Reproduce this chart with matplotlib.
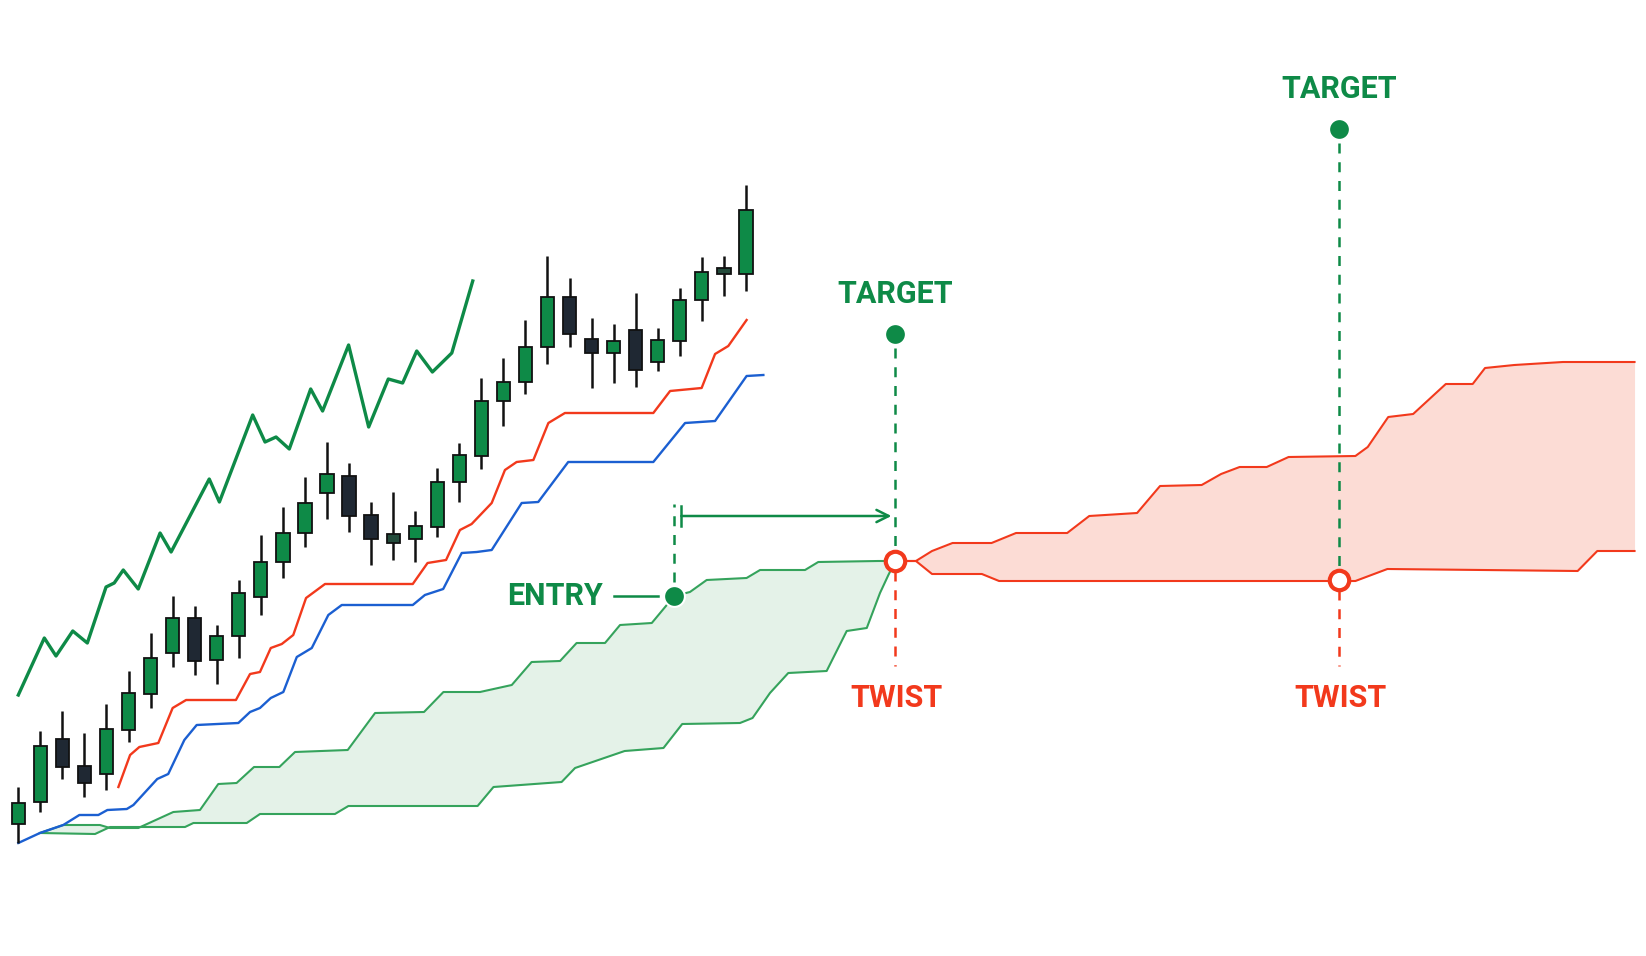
import numpy as np
import matplotlib.pyplot as plt

# candles: bar index, open, high, low, close
opens = [132, 154, 217, 190, 182, 226, 262, 303, 338, 296, 320, 359, 394, 423, 463, 480, 441,
         422, 417, 429, 474, 500, 555, 574, 609, 659, 617, 603, 626, 594, 615, 656, 688, 682]
highs = [169, 225, 245, 223, 252, 285, 323, 360, 350, 331, 376, 421, 449, 479, 514, 493, 454,
         464, 445, 488, 513, 578, 598, 636, 700, 678, 638, 632, 663, 628, 668, 699, 700, 771]
lows = [113, 144, 177, 159, 166, 214, 248, 289, 281, 272, 298, 341, 378, 409, 437, 424, 391,
        396, 394, 419, 454, 487, 530, 562, 592, 609, 568, 573, 569, 585, 600, 635, 660, 665]
closes = [153, 210, 189, 173, 227, 263, 298, 338, 295, 320, 363, 394, 423, 453, 482, 440, 417,
          413, 430, 474, 501, 555, 574, 609, 659, 622, 603, 615, 586, 616, 656, 684, 682, 746]

# lagging span (chikou)
chikou_x = [0, 1.18, 1.71, 2.47, 3.13, 3.98, 4.35, 4.76, 5.44, 6.43, 6.93, 8.66, 9.12, 10.63,
            11.19, 11.69, 12.29, 13.26, 13.8, 14.98, 15.89, 16.78, 17.43, 18.07, 18.78, 19.66, 20.61]
chikou_y = [261, 318, 300, 325, 313, 369, 373, 386, 367, 423, 404, 477, 454, 541,
            514, 519, 507, 567, 545, 611, 529, 577, 573, 605, 584, 603, 675]

# conversion line (tenkan)
tenkan_x = [4.54, 5.07, 5.49, 6.35, 7.0, 7.61, 9.87, 10.51, 10.96, 11.45, 11.95, 12.47, 13.05,
            13.91, 17.89, 18.56, 19.4, 20.03, 20.56, 21.47, 22.07, 22.6, 23.36, 24.04, 24.79,
            28.8, 29.56, 30.99, 31.6, 32.2, 33.03]
tenkan_y = [169, 201, 209, 213, 248, 256, 256, 282, 284, 308, 312, 321, 358,
            372, 372, 393, 396, 426, 432, 453, 486, 494, 496, 533, 543,
            543, 565, 568, 602, 610, 636]

# base line (kijun)
kijun_x = [0, 0.98, 2.04, 2.77, 3.63, 4.04, 4.92, 5.22, 6.3, 6.8, 7.53, 8.09, 9.98, 10.51,
           10.96, 11.45, 12.02, 12.63, 13.31, 14.06, 14.67, 17.89, 18.44, 19.27, 20.11, 20.79,
           21.47, 22.83, 23.58, 24.94, 28.8, 30.24, 31.6, 33.03, 33.79]
kijun_y = [113, 123, 131, 141, 141, 146, 147, 151, 177, 182, 216, 231, 233, 244,
           248, 258, 264, 299, 308, 341, 351, 351, 361, 367, 403, 404,
           406, 453, 454, 494, 494, 533, 535, 580, 581]

# bullish cloud (span A / span B)
span_a_x = [0.98, 2.04, 3.7, 4.16, 5.44, 7.03, 8.24, 9.07, 9.9, 10.69, 11.84, 12.55, 14.94,
            16.18, 18.4, 19.28, 20.94, 22.38, 23.28, 24.57, 25.32, 26.61, 27.29, 28.73, 29.75,
            30.46, 31.22, 33.03, 33.64, 35.68, 36.28, 39.0, 39.78]
span_a_y = [123, 131, 131, 128, 128, 144, 146, 172, 173, 189, 189, 204, 206,
            243, 244, 264, 264, 271, 294, 295, 313, 313, 331, 333, 360,
            364, 376, 378, 386, 386, 394, 395, 395]
span_b_x = [0.98, 3.48, 4.16, 7.56, 7.94, 10.36, 10.96, 14.36, 14.97, 20.83, 21.55, 24.64,
            25.25, 27.5, 29.26, 30.11, 32.73, 33.3, 34.09, 34.92, 36.66, 37.57, 38.48, 39.08,
            39.46, 39.78]
span_b_y = [123, 122, 129, 129, 133, 133, 142, 142, 150, 150, 169, 174,
            188, 205, 208, 232, 233, 238, 263, 283, 285, 325, 328, 363,
            381, 395]

# bearish cloud
red_a_x = [39.78, 40.71, 41.44, 42.37, 44.14, 45.25, 47.57, 48.57, 50.74, 51.78, 53.67, 54.55,
           55.39, 56.62, 57.61, 60.64, 61.2, 62.13, 63.26, 64.74, 65.96, 66.52, 67.85, 70.05, 73.3]
red_a_y = [395, 395, 405, 413, 413, 423, 423, 440, 443, 470, 471, 482,
           489, 489, 499, 500, 509, 539, 542, 572, 572, 588, 591, 594, 594]
red_b_x = [39.78, 40.71, 41.44, 43.7, 44.48, 60.64, 62.09, 70.72, 71.61, 73.3]
red_b_y = [395, 395, 382, 382, 375, 375, 387, 385, 405, 405]

# annotations
entry_x, entry_y = 29.73, 360
twist_x = [39.78, 59.9]
twist_y = [395, 376]
target_y = [622, 827]

GREEN = '#0e8a47'
DARK = '#1f2833'
DOJI = '#234b3b'
RED = '#f2391c'
BLUE = '#1b5fd1'
CLOUD_G = '#35a35c'

fig = plt.figure(figsize=(16.46, 9.56), dpi=100)
ax = fig.add_axes([0, 0, 1, 1])
ax.set_xlim(-0.83, 73.82)
ax.set_ylim(0, 956)
ax.axis('off')

# clouds
gx = np.linspace(0.98, 39.78, 800)
ax.fill_between(gx, np.interp(gx, span_a_x, span_a_y), np.interp(gx, span_b_x, span_b_y),
                color='#e4f2e8', lw=0, zorder=1)
ax.plot(span_a_x, span_a_y, color=CLOUD_G, lw=1.5, zorder=2)
ax.plot(span_b_x, span_b_y, color=CLOUD_G, lw=1.5, zorder=2)

rx = np.linspace(39.78, 73.3, 800)
ax.fill_between(rx, np.interp(rx, red_a_x, red_a_y), np.interp(rx, red_b_x, red_b_y),
                color='#fcdcd5', lw=0, zorder=1)
ax.plot(red_a_x, red_a_y, color=RED, lw=1.5, zorder=2)
ax.plot(red_b_x, red_b_y, color=RED, lw=1.5, zorder=2)

# lines
ax.plot(chikou_x, chikou_y, color=GREEN, lw=2.4, zorder=3, solid_joinstyle='round')
ax.plot(tenkan_x, tenkan_y, color=RED, lw=1.7, zorder=3, solid_joinstyle='round')
ax.plot(kijun_x, kijun_y, color=BLUE, lw=1.7, zorder=3, solid_joinstyle='round')

# candles
for i in range(len(opens)):
    o, h, l, c = opens[i], highs[i], lows[i], closes[i]
    if abs(c - o) < 10:
        col = DOJI
    elif c > o:
        col = GREEN
    else:
        col = DARK
    ax.vlines(i, l, h, color='#111111', lw=1.8, zorder=4)
    ax.bar(i, abs(c - o), bottom=min(o, c), width=0.6, color=col,
           edgecolor='#111111', lw=1.3, zorder=5)

font = ['Roboto', 'DejaVu Sans']

# targets and twists
for tx, ty, gy in zip(twist_x, twist_y, target_y):
    ax.plot([tx, tx], [gy - 14, ty + 10], color=GREEN, lw=1.8, ls=(0, (4, 3.5)), zorder=3)
    ax.plot([tx, tx], [ty - 10, 290], color=RED, lw=1.8, ls=(0, (4, 3.5)), zorder=3)
    ax.plot(tx, gy, 'o', ms=15, color=GREEN, mec='white', mew=1.5, zorder=7)
    ax.plot(tx, ty, 'o', ms=14, mfc='white', mec=RED, mew=3, zorder=7)
    ax.text(tx, gy + 40, 'TARGET', color=GREEN, fontsize=22, fontweight='bold',
            family=font, ha='center', va='center', zorder=8)
    ax.text(tx + 0.05, 258, 'TWIST', color=RED, fontsize=22, fontweight='bold',
            family=font, ha='center', va='center', zorder=8)

# entry
ax.plot([entry_x, entry_x], [entry_y + 14, 452], color=GREEN, lw=1.8, ls=(0, (4, 3.5)), zorder=3)
ax.plot([27.0, 29.0], [entry_y, entry_y], color=GREEN, lw=1.8, zorder=3)
ax.plot(entry_x, entry_y, 'o', ms=15, color=GREEN, mec='white', mew=1.5, zorder=7)
ax.text(26.5, entry_y, 'ENTRY', color=GREEN, fontsize=22, fontweight='bold',
        family=font, ha='right', va='center', zorder=8)

# holding period arrow
ax.plot([30.07, 30.07], [430, 450], color=GREEN, lw=1.8, zorder=6)
ax.annotate('', xy=(39.6, 440), xytext=(30.07, 440),
            arrowprops=dict(arrowstyle='->', mutation_scale=22,
                            color=GREEN, lw=1.8, shrinkA=0, shrinkB=0), zorder=6)

fig.savefig('out.png', dpi=100, facecolor='white')
